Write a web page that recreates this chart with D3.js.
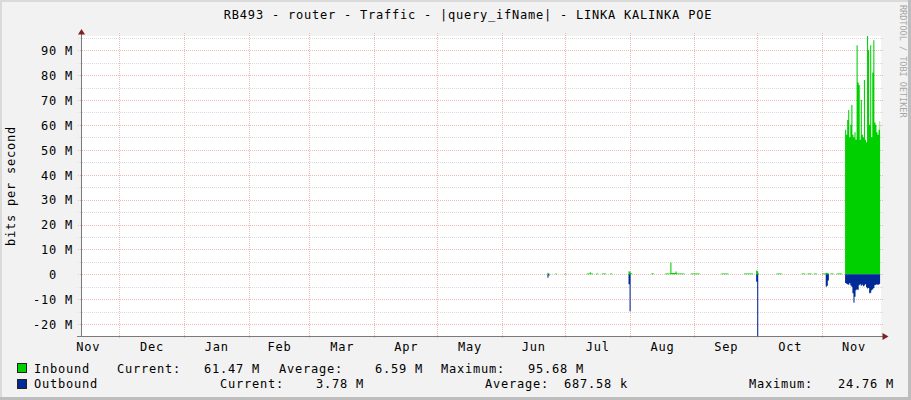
<!DOCTYPE html>
<html><head><meta charset="utf-8">
<script src="https://cdn.jsdelivr.net/npm/d3@7"></script>
<style>
html,body{margin:0;padding:0;background:#f2f2f2;}
svg{display:block;}
text{font-family:"DejaVu Sans Mono",monospace;}
</style></head><body>
<svg id="c" width="911" height="400"></svg>
<script>
// ---------- data ----------
const title = "RB493 - router - Traffic - |query_ifName| - LINKA KALINKA POE";
const yAxisTitle = "bits per second";
const watermark = "RRDTOOL / TOBI OETIKER";
const seriesNames = ["Inbound", "Outbound"];
const seriesColors = ["#00CF00", "#002A97"];
const legendCurrent = ["61.47 M", "3.78 M"];
const legendAverage = ["6.59 M", "687.58 k"];
const legendMaximum = ["95.68 M", "24.76 M"];
const monthLabels = ["Nov","Dec","Jan","Feb","Mar","Apr","May","Jun","Jul","Aug","Sep","Oct","Nov"];
const yMajorTicks = [-20,-10,0,10,20,30,40,50,60,70,80,90];   // M
const yMinorTicks = [-15,-5,5,15,25,35,45,55,65,75,85,95];    // M
const timeDomain = ["2023-11-12 20:00", "2024-11-29 04:00"];
const valueDomain = [-24.76, 95.68]; // M bits/s

const times = [
 "2023-11-12 20:00","2024-06-22 18:00","2024-06-23 06:00","2024-06-23 18:00",
 "2024-06-26 12:00","2024-06-27 06:00","2024-07-01 00:00","2024-07-01 18:00",
 "2024-07-11 12:00","2024-07-13 00:00","2024-07-13 12:00","2024-07-14 12:00",
 "2024-07-16 00:00","2024-07-17 00:00","2024-07-18 18:00","2024-07-20 18:00",
 "2024-07-22 18:00","2024-07-23 18:00","2024-07-31 12:00","2024-08-01 00:00",
 "2024-08-01 12:00","2024-08-02 06:00","2024-08-11 12:00","2024-08-12 12:00",
 "2024-08-18 00:00","2024-08-20 12:00","2024-08-21 00:00","2024-08-23 00:00",
 "2024-08-23 12:00","2024-08-27 06:00","2024-08-30 06:00","2024-09-03 12:00",
 "2024-09-13 18:00","2024-09-17 06:00","2024-09-24 18:00","2024-09-29 00:00",
 "2024-09-30 12:00","2024-10-01 00:00","2024-10-01 12:00","2024-10-02 00:00",
 "2024-10-10 06:00","2024-10-12 18:00","2024-10-22 06:00","2024-10-24 00:00",
 "2024-10-25 00:00","2024-10-27 00:00","2024-10-28 00:00","2024-10-29 12:00",
 "2024-11-01 00:00","2024-11-02 18:00","2024-11-03 06:00","2024-11-03 18:00",
 "2024-11-04 06:00","2024-11-05 00:00","2024-11-06 12:00","2024-11-08 00:00",
 "2024-11-10 12:00",
 "2024-11-12 00:00","2024-11-12 12:00","2024-11-13 00:00","2024-11-13 12:00",
 "2024-11-14 00:00","2024-11-14 12:00","2024-11-15 00:00","2024-11-15 12:00",
 "2024-11-16 00:00","2024-11-16 12:00","2024-11-17 00:00","2024-11-17 12:00",
 "2024-11-18 00:00","2024-11-18 12:00","2024-11-19 00:00","2024-11-19 12:00",
 "2024-11-20 00:00","2024-11-20 12:00","2024-11-21 00:00","2024-11-21 12:00",
 "2024-11-22 00:00","2024-11-22 12:00","2024-11-23 00:00","2024-11-23 12:00",
 "2024-11-24 00:00","2024-11-24 12:00","2024-11-25 00:00","2024-11-25 12:00",
 "2024-11-26 00:00","2024-11-26 12:00","2024-11-27 00:00","2024-11-27 12:00",
 "2024-11-28 00:00","2024-11-28 12:00","2024-11-28 18:00"
];
// M bits per second
const inbound = [
 0,0.6,0.3,0,
 0.3,0,0.3,0,
 0.3,0.8,0.3,0,
 0.3,0,0.3,0,
 0.3,0,1.2,1.0,
 0.4,0,0.4,0,
 0.3,4.7,0.5,1.1,
 0.3,0,0.3,0,
 0.3,0,0.3,0,
 1.5,1.2,0.3,0,
 0.3,0,0.3,0,
 0.3,0,0.3,0,
 0.3,0.6,0.5,0.4,
 0,0.3,0,0.3,
 0,
 58,56,62,66,
 55,60,68,56,
 55,57,54,92,
 77,76,54,70,
 56,55,78,54,
 53,95.68,90,60,
 92,55,81,94,
 61,60,57,56,
 58,61.47,61.47
];
const outbound = [
 0,1.4,0.5,0,
 0,0,0,0,
 0,0,0,0,
 0,0,0,0,
 0,0,4.0,14.8,
 0,0,0,0,
 0,0,0,0,
 0,0,0,0,
 0,0,0,0,
 3.0,24.76,0,0,
 0,0,0,0,
 0,0,0,0,
 0,5.0,4.6,2.5,
 0,0,0,0,
 0,
 3.5,3.8,4.0,4.2,
 3.6,4.5,5.0,7.6,
 11.4,9.0,6.4,6.0,
 6.3,4.4,4.0,4.6,
 4.2,4.8,4.5,4.0,
 5.2,5.7,5.5,7.6,
 7.4,6.4,6.0,5.5,
 4.4,4.2,4.0,4.3,
 4.0,3.78,3.78
];

// ---------- drawing ----------
const W = 911, H = 400;
const FS = 12, LS = 0.78;
const svg = d3.select("#c");
const parse = d3.timeParse("%Y-%m-%d %H:%M");
const dom = timeDomain.map(parse);
const x = d3.scaleTime().domain(dom).range([81, 881]);
const y = d3.scaleLinear().domain(valueDomain.map(v => v * 1e6)).range([336, 36]);

svg.append("rect").attr("width", W).attr("height", H).attr("fill", "#f2f2f2");
svg.append("rect").attr("x", 0).attr("y", 0).attr("width", 2).attr("height", H).attr("fill", "#dadada");
svg.append("rect").attr("x", 0).attr("y", 0).attr("width", W).attr("height", 2).attr("fill", "#dadada");
svg.append("rect").attr("x", W - 3).attr("y", 0).attr("width", 3).attr("height", H).attr("fill", "#bdbdbd");
svg.append("rect").attr("x", 0).attr("y", H - 3).attr("width", W).attr("height", 3).attr("fill", "#bdbdbd");

// canvas
svg.append("rect").attr("x", x.range()[0]).attr("y", y.range()[1])
  .attr("width", x.range()[1] - x.range()[0]).attr("height", y.range()[0] - y.range()[1])
  .attr("fill", "#ffffff");

const grid = svg.append("g").attr("shape-rendering", "crispEdges");
// minor horizontal
grid.selectAll(".hmin").data(yMinorTicks).join("line")
  .attr("x1", 78).attr("x2", 884)
  .attr("y1", d => Math.round(y(d * 1e6)) + 0.5).attr("y2", d => Math.round(y(d * 1e6)) + 0.5)
  .attr("stroke", "#dadada").attr("stroke-dasharray", "1,1");
// major horizontal
grid.selectAll(".hmaj").data(yMajorTicks).join("line")
  .attr("x1", 78).attr("x2", 884)
  .attr("y1", d => Math.round(y(d * 1e6)) + 0.5).attr("y2", d => Math.round(y(d * 1e6)) + 0.5)
  .attr("stroke", "#f3b8b8").attr("stroke-dasharray", "1,1");
// month lines
const months = d3.timeMonth.range(d3.timeMonth.ceil(dom[0]), dom[1]);
grid.selectAll(".vmaj").data(months).join("line")
  .attr("x1", d => Math.round(x(d)) + 0.5).attr("x2", d => Math.round(x(d)) + 0.5)
  .attr("y1", 33).attr("y2", 339)
  .attr("stroke", "#f3b8b8").attr("stroke-dasharray", "1,1");

// data
const pts = times.map((t, i) => ({ t: parse(t), inb: inbound[i] * 1e6, out: outbound[i] * 1e6 }));
const areaIn = d3.area().curve(d3.curveStepAfter)
  .x(d => x(d.t)).y0(y(0)).y1(d => y(d.inb));
const areaOut = d3.area().curve(d3.curveStepAfter)
  .x(d => x(d.t)).y0(y(0)).y1(d => y(-d.out));
svg.append("path").datum(pts).attr("d", areaIn).attr("fill", seriesColors[0]);
svg.append("path").datum(pts).attr("d", areaOut).attr("fill", seriesColors[1]);

// axes lines
const ax = svg.append("g").attr("shape-rendering", "crispEdges");
ax.append("line").attr("x1", 81.5).attr("x2", 81.5).attr("y1", 337).attr("y2", 32).attr("stroke", "#7a7a7a");
ax.append("line").attr("x1", 77).attr("x2", 884).attr("y1", 336.5).attr("y2", 336.5).attr("stroke", "#7a7a7a");
svg.append("path").attr("d", "M78,34.5L85,34.5L81.5,29Z").attr("fill", "#801f1f");
svg.append("path").attr("d", "M882.5,333L882.5,340L888.5,336.5Z").attr("fill", "#801f1f");

// y axis labels
const yAxis = d3.axisLeft(y).tickValues(yMajorTicks.map(v => v * 1e6))
  .tickSize(0).tickPadding(0)
  .tickFormat(d => d === 0 ? "0" : (d / 1e6) + " M");
const gy = svg.append("g").attr("transform", "translate(73,0)").call(yAxis);
gy.select(".domain").remove();
gy.selectAll("text").attr("font-family", "DejaVu Sans Mono").attr("font-size", FS)
  .attr("letter-spacing", LS).attr("fill", "#000")
  .attr("dx", d => d === 0 ? -16 : 0).attr("dy", "0.36em");

// x axis labels at mid-month
const monthStarts = d3.timeMonth.range(d3.timeMonth.floor(dom[0]), dom[1]);
const mids = monthStarts.map(m => new Date((+m + +d3.timeMonth.offset(m, 1)) / 2));
const xAxis = d3.axisBottom(x).tickValues(mids).tickSize(0).tickPadding(6)
  .tickFormat((d, i) => monthLabels[i]);
const gx = svg.append("g").attr("transform", "translate(0,336)").call(xAxis);
gx.select(".domain").remove();
gx.selectAll("text").attr("font-family", "DejaVu Sans Mono").attr("font-size", FS)
  .attr("letter-spacing", LS).attr("fill", "#000");

function txt(str, tx, ty, anchor) {
  return svg.append("text").attr("x", tx).attr("y", ty).attr("text-anchor", anchor || "start")
    .attr("font-size", FS).attr("letter-spacing", LS).attr("fill", "#000").text(str);
}
// title
txt(title, 468, 19, "middle");
// y title
svg.append("text").attr("transform", "translate(15,186) rotate(-90)")
  .attr("text-anchor", "middle").attr("font-size", FS).attr("letter-spacing", LS)
  .attr("fill", "#000").text(yAxisTitle);
// watermark
svg.append("text").attr("transform", "translate(900,5) rotate(90)")
  .attr("font-size", 8.5).attr("fill", "#a6a6a6").text(watermark);

// legend
const rows = [
  { yb: 372.5, box: 363, lab: [117, 279, 441], val: [260, 423, 584] },
  { yb: 388, box: 378.5, lab: [220, 485, 749], val: [364, 628, 894] }
];
seriesNames.forEach((name, i) => {
  const r = rows[i];
  svg.append("rect").attr("x", 17.5).attr("y", r.box + 0.5).attr("width", 9).attr("height", 9)
    .attr("fill", seriesColors[i]).attr("stroke", "#222").attr("stroke-width", 1)
    .attr("shape-rendering", "crispEdges");
  txt(name, 34, r.yb);
  txt("Current:", r.lab[0], r.yb);
  txt(legendCurrent[i], r.val[0], r.yb, "end");
  txt("Average:", r.lab[1], r.yb);
  txt(legendAverage[i], r.val[1], r.yb, "end");
  txt("Maximum:", r.lab[2], r.yb);
  txt(legendMaximum[i], r.val[2], r.yb, "end");
});
</script>
</body></html>
